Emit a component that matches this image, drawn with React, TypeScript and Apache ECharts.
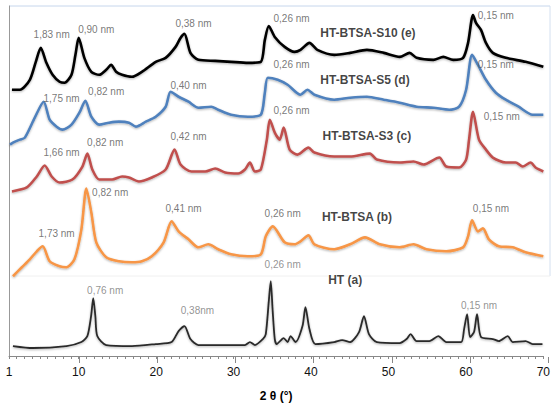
import React, { useEffect, useRef } from "react";
import * as echarts from "echarts";

// 2θ (°) and intensity (a.u., stacked offsets)
const CURVE_E: [number, number][] = [
  [1.38, 267], [2.41, 267], [3.69, 277], [4.46, 295], [5.1, 309], [5.83, 294], [6.63, 282], [7.53, 275],
  [8.17, 274], [9.07, 282], [9.58, 302], [10.0, 319], [10.73, 299], [11.63, 285], [12.65, 282], [13.55, 287],
  [14.19, 292], [14.83, 285], [15.6, 282], [16.88, 280], [18.16, 285], [19.95, 295], [21.23, 299], [22.51, 310],
  [23.15, 319], [23.66, 323], [24.43, 304], [25.46, 297], [27.63, 296], [29.68, 295], [31.86, 294], [33.52, 295],
  [34.04, 317], [34.55, 331], [35.32, 320], [36.6, 310], [37.88, 305], [38.64, 307], [39.8, 314], [40.82, 307],
  [43.0, 302], [45.05, 304], [47.22, 307], [49.4, 304], [51.45, 300], [52.73, 304], [53.63, 299], [55.8, 297],
  [57.08, 300], [58.36, 297], [59.64, 299], [60.28, 314], [60.92, 342], [61.31, 334], [61.95, 327], [62.59, 314],
  [63.48, 304], [65.15, 299], [67.71, 295], [70.0, 290],
];
const CURVE_D: [number, number][] = [
  [1.13, 212], [1.51, 214], [2.41, 217], [3.05, 219], [4.33, 239], [5.48, 255], [6.25, 237], [7.15, 230],
  [7.91, 227], [9.07, 232], [10.09, 244], [10.86, 256], [11.63, 240], [12.65, 232], [13.93, 234], [15.21, 235],
  [16.49, 234], [17.39, 230], [18.67, 235], [19.95, 240], [21.23, 250], [21.87, 265], [22.9, 260], [24.18, 255],
  [25.46, 249], [27.12, 250], [28.02, 247], [29.68, 242], [31.86, 240], [33.52, 242], [34.04, 264], [34.42, 279],
  [35.7, 277], [36.98, 272], [38.64, 262], [39.54, 267], [40.44, 262], [43.0, 257], [45.05, 259], [47.22, 260],
  [49.4, 257], [51.45, 254], [53.63, 250], [55.8, 249], [57.85, 247], [59.13, 250], [60.03, 267], [60.8, 302],
  [61.56, 292], [62.59, 277], [63.87, 264], [65.15, 257], [66.81, 250], [68.61, 242], [70.0, 242],
];
const CURVE_C: [number, number][] = [
  [1.38, 165], [3.3, 169], [4.59, 180], [5.61, 191], [6.51, 180], [7.53, 174], [9.19, 177], [10.48, 190],
  [11.12, 203], [11.76, 187], [12.65, 177], [14.32, 177], [15.6, 180], [16.49, 179], [17.77, 175], [19.44, 179],
  [21.23, 187], [22.38, 207], [23.15, 192], [24.56, 185], [26.35, 185], [27.63, 188], [28.91, 184], [30.58, 183],
  [31.47, 187], [32.11, 194], [32.76, 185], [33.52, 187], [34.3, 217], [34.68, 237], [35.32, 224], [35.96, 217],
  [36.47, 229], [37.24, 207], [38.26, 202], [39.67, 209], [40.44, 204], [43.0, 200], [45.05, 200], [47.61, 203],
  [48.5, 197], [51.45, 194], [53.24, 195], [54.52, 192], [56.57, 199], [57.47, 190], [59.13, 189], [60.03, 197],
  [60.41, 217], [60.92, 245], [61.69, 217], [62.59, 207], [63.48, 199], [65.15, 194], [66.43, 194], [67.33, 190],
  [68.35, 194], [68.99, 189], [70.0, 185],
];
const CURVE_B: [number, number][] = [
  [1.51, 80], [2.66, 89], [3.69, 97], [4.59, 105], [5.35, 110], [6.25, 95], [7.53, 90], [8.43, 89],
  [9.45, 97], [10.35, 127], [10.99, 168], [11.63, 144], [12.27, 114], [13.55, 99], [15.21, 95], [16.88, 94],
  [18.16, 95], [19.44, 100], [20.97, 114], [22.0, 135], [22.9, 125], [24.18, 117], [25.46, 109], [26.74, 112],
  [28.02, 107], [29.68, 102], [31.86, 100], [33.52, 102], [34.16, 120], [35.06, 130], [36.6, 114], [37.88, 112],
  [38.64, 115], [39.67, 121], [40.44, 112], [43.0, 107], [45.05, 112], [46.97, 119], [48.89, 112], [51.45, 109],
  [53.24, 112], [54.91, 107], [57.47, 105], [59.64, 109], [60.28, 120], [60.8, 136], [61.56, 125], [62.2, 128],
  [62.97, 117], [64.25, 110], [66.04, 109], [67.71, 104], [70.0, 100],
];
const CURVE_A: [number, number][] = [
  [1.51, 10], [4.07, 8], [8.43, 10], [10.35, 14], [11.12, 20], [11.6, 40], [11.88, 58], [12.15, 40], [12.4, 20],
  [13.55, 11], [16.88, 10], [19.95, 12], [22.0, 14], [22.9, 25], [23.66, 30], [24.43, 17], [25.46, 11],
  [29.68, 11], [31.47, 11], [32.11, 14], [32.76, 11], [33.78, 17], [34.16, 22], [34.55, 55], [34.8, 75],
  [35.05, 45], [35.32, 17], [35.57, 12], [36.47, 18], [36.98, 14], [37.36, 20], [38.01, 14], [38.9, 30],
  [39.28, 49], [39.8, 27], [40.56, 12], [43.0, 14], [44.02, 16], [45.05, 14], [46.2, 24], [46.84, 40],
  [47.48, 22], [48.5, 14], [51.45, 13], [52.34, 17], [52.86, 22], [53.63, 15], [55.29, 15], [56.44, 20],
  [57.47, 14], [59.39, 14], [59.77, 27], [60.16, 42], [60.54, 19], [61.05, 24], [61.44, 42], [61.95, 19],
  [63.48, 17], [64.25, 15], [65.4, 20], [66.04, 14], [67.71, 15], [68.61, 12], [69.89, 12],
];

const SERIES_NAMES = ["HT-BTSA-S10 (e)", "HT-BTSA-S5 (d)", "HT-BTSA-S3 (c)", "HT-BTSA (b)", "HT (a)"];
const SERIES_COLORS = ["#000000", "#4f81bd", "#c0504d", "#f79646", "#2a2a2a"];

// series name labels: [text, 2θ, intensity]
const NAME_LABELS: [string, number, number][] = [
  ["HT-BTSA-S10 (e)", 47.35, 324],
  ["HT-BTSA-S5 (d)", 46.97, 277],
  ["HT-BTSA-S3 (c)", 47.22, 221],
  ["HT-BTSA (b)", 45.94, 139],
  ["HT (a)", 44.41, 76],
];
// d-spacing labels: [text, 2θ, intensity]
const D_LABELS: [string, number, number][] = [
  ["1,83 nm", 6.51, 322], ["0,90 nm", 12.27, 327], ["0,38 nm", 24.82, 333], ["0,26 nm", 37.49, 338], ["0,15 nm", 63.87, 341],
  ["1,75 nm", 7.79, 258], ["0,82 nm", 13.55, 265], ["0,40 nm", 24.18, 271], ["0,26 nm", 37.49, 292], ["0,15 nm", 63.87, 292],
  ["1,66 nm", 7.79, 204], ["0,82 nm", 13.42, 214], ["0,42 nm", 24.18, 220], ["0,26 nm", 37.49, 246], ["0,15 nm", 64.64, 240],
  ["1,73 nm", 7.15, 123], ["0,82 nm", 14.06, 164], ["0,41 nm", 23.54, 148], ["0,26 nm", 36.34, 143], ["0,15 nm", 63.23, 148],
  ["0,76 nm", 13.42, 66], ["0,38nm", 25.33, 46], ["0,26 nm", 36.34, 92], ["0,15 nm", 61.69, 51],
];

const X_MIN = 1;
const X_MAX = 70;
const MAJOR_TICKS = [1, 10, 20, 30, 40, 50, 60, 70];

export default function App() {
  const ref = useRef<HTMLDivElement>(null);
  useEffect(() => {
    if (!ref.current) return;
    const chart = echarts.init(ref.current, null, { renderer: "svg" });
    const curves = [CURVE_E, CURVE_D, CURVE_C, CURVE_B, CURVE_A];
    const font = "'Liberation Sans', Arial, sans-serif";
    const gridLeft = 9;
    const gridRight = 5;
    const plotW = 553 - gridLeft - gridRight;
    const pxPerDeg = plotW / (X_MAX - X_MIN);
    const lineSeries = curves.map((c, i) => ({
      type: "line",
      name: SERIES_NAMES[i],
      data: c,
      xAxisIndex: 0,
      yAxisIndex: 0,
      showSymbol: false,
      smooth: 0.25,
      z: 10 - i,
      lineStyle: {
        color: SERIES_COLORS[i],
        width: i === 4 ? 1.8 : 2.6,
        shadowColor: "rgba(0,0,0,0.3)",
        shadowBlur: 2,
        shadowOffsetY: 1,
      },
    }));
    chart.setOption({
      animation: false,
      grid: [
        { left: gridLeft, right: gridRight, top: 6, bottom: 50 },
        // helper grid for the longer ticks at 10, 20, ... 70
        { left: gridLeft + (10 - X_MIN) * pxPerDeg, right: gridRight, top: 6, bottom: 50 },
      ],
      xAxis: [
        {
          gridIndex: 0,
          type: "value",
          min: X_MIN,
          max: X_MAX,
          interval: 1,
          position: "bottom",
          name: "2 θ (°)",
          nameLocation: "middle",
          nameGap: 34,
          nameTextStyle: { fontFamily: font, fontSize: 12, fontWeight: "bold", color: "#000" },
          axisLine: { show: true, lineStyle: { color: "#888", width: 1 } },
          axisTick: { show: true, length: 3, lineStyle: { color: "#888" } },
          axisLabel: {
            fontFamily: font,
            fontSize: 12,
            color: "#111",
            margin: 10,
            formatter: (v: number) => (MAJOR_TICKS.includes(v) ? String(v) : ""),
          },
          splitLine: { show: false },
        },
        {
          gridIndex: 1,
          type: "value",
          min: 10,
          max: X_MAX,
          interval: 10,
          position: "bottom",
          axisLine: { show: false },
          axisTick: { show: true, length: 6, lineStyle: { color: "#888" } },
          axisLabel: { show: false },
          splitLine: { show: false },
        },
      ],
      yAxis: [
        {
          gridIndex: 0,
          type: "value",
          min: 0,
          max: 351,
          axisLine: { show: true, lineStyle: { color: "#999", width: 1 } },
          axisTick: { show: false },
          axisLabel: { show: false },
          splitLine: { show: false },
        },
        {
          gridIndex: 1,
          type: "value",
          min: 0,
          max: 351,
          show: false,
        },
      ],
      graphic: [
        { type: "line", shape: { x1: 9, y1: 6, x2: 550, y2: 6 }, style: { stroke: "#c6d6ec", lineWidth: 1 } },
        { type: "line", shape: { x1: 550, y1: 6, x2: 550, y2: 276 }, style: { stroke: "#d4e0f0", lineWidth: 1 } },
        { type: "line", shape: { x1: 11, y1: 276, x2: 550, y2: 276 }, style: { stroke: "#f0f0f0", lineWidth: 1 } },
      ],
      series: [
        ...lineSeries,
        {
          type: "scatter",
          xAxisIndex: 0,
          yAxisIndex: 0,
          symbolSize: 1,
          itemStyle: { color: "rgba(0,0,0,0)" },
          silent: true,
          z: 20,
          data: D_LABELS.map(([t, x, y], i) => ({
            value: [x, y],
            name: t,
            label: { color: i >= 20 ? "#777" : "#555" },
          })),
          label: { show: true, position: "inside", formatter: "{b}", fontFamily: font, fontSize: 10, color: "#555" },
        },
        {
          type: "scatter",
          xAxisIndex: 0,
          yAxisIndex: 0,
          symbolSize: 1,
          itemStyle: { color: "rgba(0,0,0,0)" },
          silent: true,
          z: 20,
          data: NAME_LABELS.map(([t, x, y]) => ({ value: [x, y], name: t })),
          label: {
            show: true,
            position: "inside",
            formatter: "{b}",
            fontFamily: font,
            fontSize: 12,
            fontWeight: "bold",
            color: "#111",
          },
        },
      ],
    });
    return () => chart.dispose();
  }, []);
  return (
    <div
      ref={ref}
      style={{ position: "absolute", left: 0, top: 0, width: 553, height: 407, background: "#fff" }}
    />
  );
}
